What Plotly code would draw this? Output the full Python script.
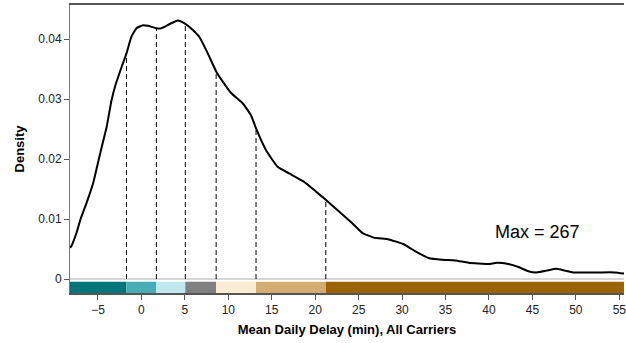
import numpy as np
import plotly.graph_objects as go

# Density curve (x = mean daily delay in minutes, y = density)
curve_x = [-8.22, -8.03, -7.45, -7.0, -6.31, -5.55, -4.98, -4.4, -4.01, -3.44,
           -2.95, -2.29, -1.72, -1.15, -0.57, 0.18, 0.76, 1.72, 2.29, 3.25, 4.2,
           4.97, 5.92, 6.69, 7.64, 8.6, 9.36, 10.32, 11.65, 12.61, 13.19,
           14.33, 15.67, 17.0, 18.73, 20.07, 21.22, 22.55, 24.27, 25.41, 26.75,
           28.47, 30.2, 31.54, 33.06, 34.59, 36.12, 37.65, 39.94, 40.9, 42.24,
           43.39, 44.53, 45.48, 46.63, 47.78, 48.74, 49.69, 52.56, 54.47, 55.6]
curve_y = [0.0052, 0.0056, 0.0078, 0.0100, 0.0127, 0.0160, 0.0195, 0.0230, 0.0253, 0.0298,
           0.0325, 0.0353, 0.0376, 0.0404, 0.0418, 0.0423, 0.0422, 0.0418, 0.0418, 0.0425, 0.0431,
           0.0426, 0.0415, 0.0403, 0.0376, 0.0346, 0.0329, 0.0310, 0.0293, 0.0273, 0.0251,
           0.0215, 0.0187, 0.0176, 0.0162, 0.0146, 0.0132, 0.0115, 0.0093, 0.0077, 0.0069,
           0.0066, 0.0058, 0.0046, 0.0035, 0.0032, 0.0031, 0.0027, 0.0025, 0.0027, 0.0025,
           0.0020, 0.0013, 0.0011, 0.0014, 0.0017, 0.0014, 0.0011, 0.0011, 0.0011, 0.0009]

# Class breaks for the colour strip
breaks = [-1.72, 1.72, 5.05, 8.6, 13.19, 21.22]
strip_colors = ["#00757A", "#46ADB6", "#C0E7EE", "#808080", "#FAEBD3", "#D5AC70", "#9C6400"]

x_ticks = [-5, 0, 5, 10, 15, 20, 25, 30, 35, 40, 45, 50, 55]
y_ticks = [0, 0.01, 0.02, 0.03, 0.04]
y_tick_labels = ["0", "0.01", "0.02", "0.03", "0.04"]

x_range = [-8.22, 55.54]
y_range = [-0.00233, 0.04567]
strip_top = -0.00045

max_label = "Max = 267"

fig = go.Figure()

# dashed vertical lines at the class breaks
dx, dy = [], []
for b in breaks:
    h = float(np.interp(b, curve_x, curve_y))
    dx += [b, b, None]
    dy += [0, h, None]
fig.add_trace(go.Scatter(x=dx, y=dy, mode="lines",
                         line=dict(color="black", width=1, dash="5px,3px"),
                         hoverinfo="skip", showlegend=False))

fig.add_trace(go.Scatter(x=curve_x, y=curve_y, mode="lines",
                         line=dict(color="black", width=2, shape="spline", smoothing=0.4),
                         showlegend=False))

edges = [x_range[0]] + breaks + [x_range[1] + 1]
shapes = []
for i, c in enumerate(strip_colors):
    shapes.append(dict(type="rect", xref="x", yref="y", x0=edges[i], x1=edges[i + 1],
                       y0=y_range[0], y1=strip_top, fillcolor=c, line=dict(width=0),
                       layer="above"))
# light zero line
shapes.append(dict(type="line", xref="paper", yref="y", x0=0, x1=1, y0=0, y1=0,
                   line=dict(color="#D6D6D6", width=2), layer="below"))

fig.update_layout(
    width=626, height=343,
    margin=dict(l=70, r=0, t=5, b=50),
    paper_bgcolor="white", plot_bgcolor="white",
    font=dict(family="Liberation Sans, Arial, sans-serif", size=12, color="#222"),
    shapes=shapes,
    annotations=[dict(x=45.56, y=0.00788, xref="x", yref="y", text=max_label,
                      showarrow=False, font=dict(size=18, color="black"))],
    xaxis=dict(range=x_range, tickvals=x_ticks, ticks="outside", ticklen=5,
               tickcolor="#555", showline=True, linecolor="#555", linewidth=2,
               mirror=True, showgrid=False, zeroline=False, ticklabeloverflow="allow",
               title=dict(text="<b>Mean Daily Delay (min), All Carriers</b>",
                          font=dict(size=13, color="black"), standoff=8)),
    yaxis=dict(range=y_range, tickvals=y_ticks, ticktext=y_tick_labels,
               ticks="outside", ticklen=5, tickcolor="#555", showline=True,
               linecolor="#777", linewidth=1, showgrid=False, zeroline=False,
               title=dict(text="<b>Density</b>", font=dict(size=13, color="black"),
                          standoff=10)),
)

fig.write_html("out.html")
